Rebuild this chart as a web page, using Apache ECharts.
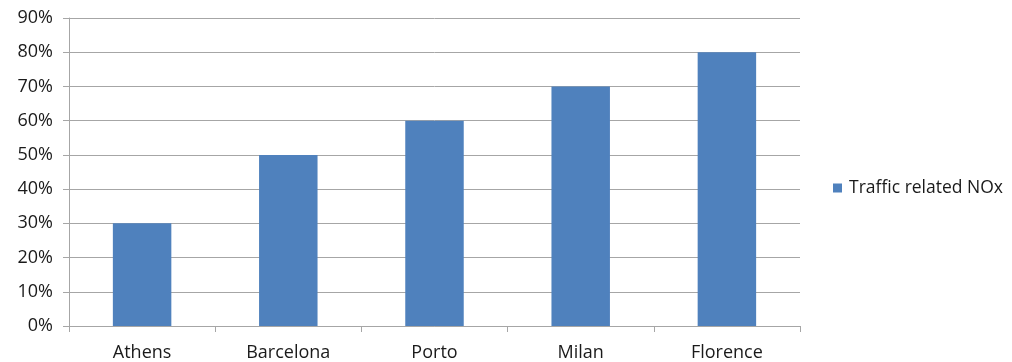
<!DOCTYPE html>
<html>
<head>
<meta charset="utf-8">
<script src="https://cdn.jsdelivr.net/npm/echarts@6/dist/echarts.min.js"></script>
<style>
  html, body { margin: 0; padding: 0; background: #fff; }
  #chart { width: 1012px; height: 362px; }
</style>
</head>
<body>
<div id="chart"></div>
<script>
const cities = ['Athens', 'Barcelona', 'Porto', 'Milan', 'Florence'];
const trafficNOx = [30, 50, 60, 70, 80];
const seriesName = 'Traffic related NOx';

const font = "'Open Sans', 'Liberation Sans', sans-serif";
const chart = echarts.init(document.getElementById('chart'), null, { renderer: 'canvas' });

chart.setOption({
  animation: false,
  textStyle: { fontFamily: font },
  grid: { left: 69, right: 212, top: 18, bottom: 35, containLabel: false },
  legend: {
    data: [seriesName],
    orient: 'vertical',
    left: 828,
    top: 174,
    itemWidth: 9,
    itemHeight: 9,
    itemGap: 0,
    icon: 'rect',
    textStyle: { fontFamily: font, fontSize: 17.5, color: '#1a1a1a', padding: [0, 0, 0, 2] }
  },
  xAxis: {
    type: 'category',
    data: cities,
    axisLine: { lineStyle: { color: '#a6a6a6', width: 1 } },
    axisTick: { show: true, length: 6, alignWithLabel: false, lineStyle: { color: '#a6a6a6' } },
    axisLabel: { fontFamily: font, fontSize: 18, color: '#1a1a1a', margin: 18 }
  },
  yAxis: {
    type: 'value',
    min: 0,
    max: 90,
    interval: 10,
    axisLine: { show: true, lineStyle: { color: '#a6a6a6', width: 1 } },
    axisTick: { show: true, length: 6, lineStyle: { color: '#a6a6a6' } },
    axisLabel: { fontFamily: font, fontSize: 18, color: '#1a1a1a', margin: 16, formatter: '{value}%' },
    splitLine: { lineStyle: { color: '#a6a6a6', width: 1 } }
  },
  series: [{
    name: seriesName,
    type: 'bar',
    data: trafficNOx,
    barWidth: '40%',
    itemStyle: { color: '#4f81bd' }
  }]
});
</script>
</body>
</html>
